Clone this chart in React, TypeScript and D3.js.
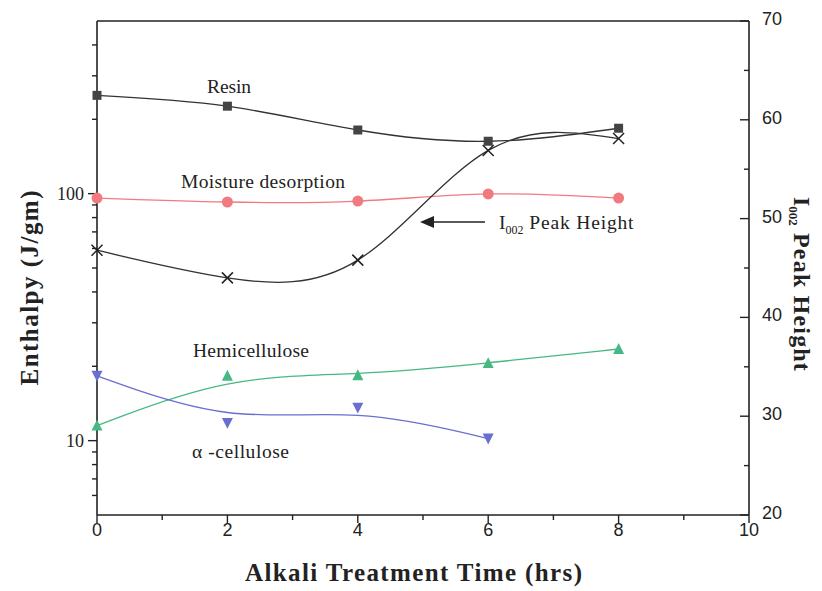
import React from "react";
import * as d3 from "d3";

const hours = [0, 2, 4, 6, 8];
const resin = [250, 226, 181, 163, 184];
const moisture = [96, 92.5, 93.3, 99.7, 96];
const peakHeight = [46.8, 44.0, 45.8, 56.9, 58.1];
const hemicellulose = [11.5, 18.3, 18.4, 20.6, 23.5];
const alphaHours = [0, 2, 4, 6];
const alphaCellulose = [18.3, 11.8, 13.6, 10.2];

const xTicks = [0, 2, 4, 6, 8, 10];
const xMinor = [1, 3, 5, 7, 9];
const leftTicks = [10, 100];
const leftMinor = [6, 7, 8, 9, 20, 30, 40, 50, 60, 70, 80, 90, 200, 300, 400];
const rightTicks = [20, 30, 40, 50, 60, 70];
const rightMinor = [25, 35, 45, 55, 65];

const W = 822;
const H = 591;
const margin = { top: 21, right: 73, bottom: 76, left: 97 };

export default function App() {
  const x = d3.scaleLinear().domain([0, 10]).range([margin.left, W - margin.right]);
  const yLeft = d3.scaleLog().domain([5, 500]).range([H - margin.bottom, margin.top]);
  const yRight = d3.scaleLinear().domain([20, 70]).range([H - margin.bottom, margin.top]);

  const x0 = margin.left;
  const x1 = W - margin.right;
  const yTop = margin.top;
  const yBot = H - margin.bottom;

  const pathFor = (xs: number[], ys: number[], y: any, curve: any) =>
    d3
      .line<number>()
      .x((d, i) => x(xs[i]))
      .y((d) => y(d))
      .curve(curve)(ys) || "";

  const serif = "'Liberation Serif', 'Times New Roman', serif";
  const sans = "'Liberation Sans', Arial, sans-serif";

  const black = "#333";
  const pink = "#f07a80";
  const green = "#45b884";
  const blue = "#6a6fcf";

  const tri = (cx: number, cy: number, s: number, up: boolean) => {
    const h = s * 0.9;
    return up
      ? `M${cx},${cy - h / 2 - 1}L${cx + s / 2},${cy + h / 2}L${cx - s / 2},${cy + h / 2}Z`
      : `M${cx},${cy + h / 2 + 1}L${cx + s / 2},${cy - h / 2}L${cx - s / 2},${cy - h / 2}Z`;
  };

  return (
    <svg width={W} height={H} style={{ display: "block", position: "absolute", left: 0, top: 0 }}>
      <rect width={W} height={H} fill="#fff" />

      {/* frame */}
      <g stroke="#222" strokeWidth={1.6} fill="none">
        <line x1={x0} x2={x1} y1={yTop} y2={yTop} />
        <line x1={x0} x2={x1} y1={yBot} y2={yBot} />
        <line x1={x0} x2={x0} y1={yTop} y2={yBot} />
        <line x1={x1} x2={x1} y1={yTop} y2={yBot} />
      </g>

      {/* x axis */}
      <g stroke="#222" strokeWidth={1.4}>
        {xTicks.map((t) => (
          <line key={"xt" + t} x1={x(t)} x2={x(t)} y1={yBot} y2={yBot + 8} />
        ))}
        {xMinor.map((t) => (
          <line key={"xm" + t} x1={x(t)} x2={x(t)} y1={yBot} y2={yBot + 5} />
        ))}
      </g>
      {xTicks.map((t) => (
        <text key={"xl" + t} x={x(t)} y={yBot + 21} textAnchor="middle" fontFamily={sans} fontSize={18} fill="#222">
          {t}
        </text>
      ))}

      {/* left axis */}
      <g stroke="#222" strokeWidth={1.4}>
        {leftTicks.map((t) => (
          <line key={"lt" + t} x1={x0 - 9} x2={x0} y1={yLeft(t)} y2={yLeft(t)} />
        ))}
        {leftMinor.map((t) => (
          <line key={"lm" + t} x1={x0 - 5} x2={x0} y1={yLeft(t)} y2={yLeft(t)} />
        ))}
      </g>
      {leftTicks.map((t) => (
        <text key={"ll" + t} x={x0 - 13} y={yLeft(t) + 6} textAnchor="end" fontFamily={serif} fontSize={18} fill="#222">
          {t}
        </text>
      ))}

      {/* right axis */}
      <g stroke="#222" strokeWidth={1.4}>
        {rightTicks.map((t) => (
          <line key={"rt" + t} x1={x1 - 9} x2={x1} y1={yRight(t)} y2={yRight(t)} />
        ))}
        {rightMinor.map((t) => (
          <line key={"rm" + t} x1={x1 - 5} x2={x1} y1={yRight(t)} y2={yRight(t)} />
        ))}
      </g>
      {rightTicks.map((t) => (
        <text key={"rl" + t} x={x1 + 13} y={yRight(t) + 4} textAnchor="start" fontFamily={sans} fontSize={18} fill="#222">
          {t}
        </text>
      ))}

      {/* axis titles */}
      <text
        transform={`translate(38,288) rotate(-90)`}
        textAnchor="middle"
        fontFamily={serif}
        fontWeight="bold"
        fontSize={25}
        textLength={195}
        lengthAdjust="spacing"
        fill="#222"
      >
        Enthalpy (J/gm)
      </text>
      <text
        transform={`translate(794,197) rotate(90)`}
        textAnchor="start"
        fontFamily={serif}
        fontWeight="bold"
        fontSize={24}
        fill="#222"
      >
        I<tspan fontSize={13} dy={5}>002</tspan>
        <tspan dy={-5} textLength={145} lengthAdjust="spacing"> Peak Height</tspan>
      </text>
      <text
        x={(245 + 582) / 2}
        y={581}
        textAnchor="middle"
        fontFamily={serif}
        fontWeight="bold"
        fontSize={25}
        textLength={337}
        lengthAdjust="spacing"
        fill="#222"
      >
        Alkali Treatment Time (hrs)
      </text>

      {/* curves */}
      <g fill="none" strokeWidth={1.3}>
        <path d={pathFor(hours, resin, yLeft, d3.curveNatural)} stroke={black} />
        <path d={pathFor(hours, moisture, yLeft, d3.curveNatural)} stroke={pink} />
        <path d={pathFor(hours, peakHeight, yRight, d3.curveNatural)} stroke={black} />
        <path d={pathFor(hours, hemicellulose, yLeft, d3.curveBasis)} stroke={green} />
        <path d={pathFor(alphaHours, alphaCellulose, yLeft, d3.curveBasis)} stroke={blue} />
      </g>

      {/* markers */}
      {hours.map((h, i) => (
        <rect key={"rs" + i} x={x(h) - 4.5} y={yLeft(resin[i]) - 4.5} width={9} height={9} fill="#444" />
      ))}
      {hours.map((h, i) => (
        <circle key={"ms" + i} cx={x(h)} cy={yLeft(moisture[i])} r={5.5} fill={pink} />
      ))}
      {hours.map((h, i) => {
        const cx = x(h);
        const cy = yRight(peakHeight[i]);
        const s = 5.5;
        return (
          <path key={"ph" + i} d={`M${cx - s},${cy - s}L${cx + s},${cy + s}M${cx - s},${cy + s}L${cx + s},${cy - s}`} stroke="#222" strokeWidth={1.5} />
        );
      })}
      {hours.map((h, i) => (
        <path key={"hc" + i} d={tri(x(h), yLeft(hemicellulose[i]), 11, true)} fill={green} />
      ))}
      {alphaHours.map((h, i) => (
        <path key={"ac" + i} d={tri(x(h), yLeft(alphaCellulose[i]), 11, false)} fill={blue} />
      ))}

      {/* annotations */}
      <g fontFamily={serif} fontSize={19.5} fill="#222" lengthAdjust="spacing">
        <text x={207} y={93} textLength={44}>Resin</text>
        <text x={181} y={188} textLength={164}>Moisture desorption</text>
        <text x={193} y={357} textLength={116}>Hemicellulose</text>
        <text x={192} y={458} textLength={97}>α -cellulose</text>
      </g>
      <text x={499} y={229} fontFamily={serif} fontSize={19.5} fill="#222">
        I<tspan fontSize={12} dy={5}>002</tspan>
        <tspan dy={-5} textLength={110} lengthAdjust="spacing"> Peak Height</tspan>
      </text>
      <line x1={432} x2={485} y1={222} y2={222} stroke="#222" strokeWidth={1.4} />
      <path d="M420,222L434,216L434,228Z" fill="#222" />
    </svg>
  );
}
